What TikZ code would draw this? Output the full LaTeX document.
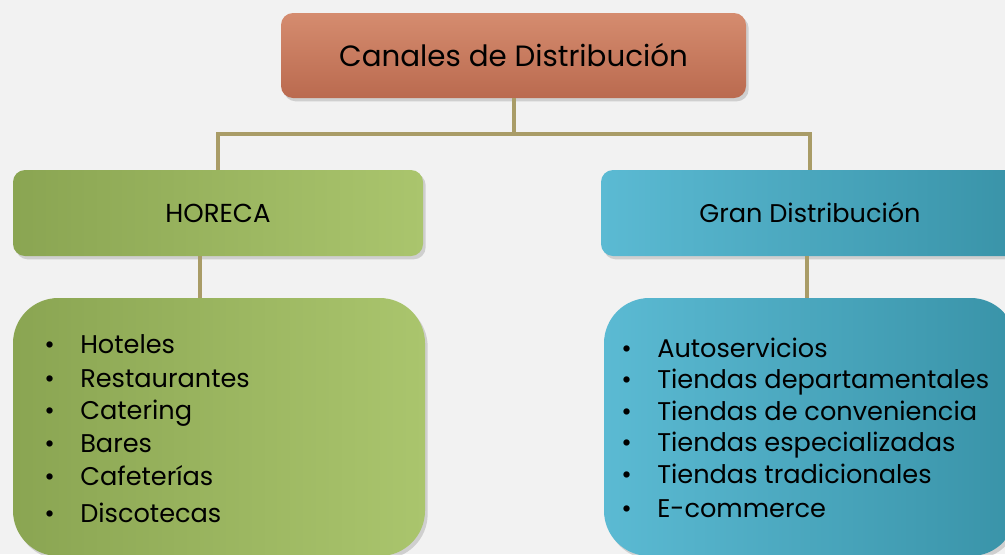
\documentclass[tikz,border=0pt]{standalone}
\usepackage{fontspec}
\setmainfont{Poppins}
\usetikzlibrary{shadows}

\definecolor{fond}{HTML}{F2F2F2}
\definecolor{trait}{HTML}{A99C67}
\definecolor{rougeH}{HTML}{D58C6F}
\definecolor{rougeB}{HTML}{BA6A4F}
\definecolor{vertG}{HTML}{8AA552}
\definecolor{vertD}{HTML}{AAC56D}
\definecolor{bleuG}{HTML}{5BBAD3}
\definecolor{bleuD}{HTML}{3993A8}

\begin{document}
\begin{tikzpicture}  % ------ Canales de distribución -------
      [x=0.75pt,y=-0.75pt,
       boite/.style={rounded corners=9pt, inner sep=0pt,
         drop shadow={shadow xshift=2pt,shadow yshift=-2.5pt,opacity=0.3}},
       liste/.style={boite, rounded corners=34pt, minimum width=309pt, minimum height=193.5pt},
       item/.style={anchor=base west, inner sep=0pt, font=\fontsize{19.2}{22}\selectfont},
       trait/.style={draw=trait, line width=3pt}]

    \useasboundingbox (0,0) rectangle (1005,554);
    \fill[fond] (0,0) rectangle (1005,554);
    \clip (0,0) rectangle (1005,554);

    \node[boite, top color=rougeH, bottom color=rougeB, minimum width=348.75pt, minimum height=63.75pt,
          font=\fontsize{22}{26}\selectfont] (titre) at (513.5,55.5) {Canales de Distribución};
    \node[boite, left color=vertG, right color=vertD, minimum width=307.5pt, minimum height=64.5pt,
          font=\fontsize{19.5}{23}\selectfont] (horeca) at (218,213) {HORECA};
    \node[boite, left color=bleuG, right color=bleuD, minimum width=313.5pt, minimum height=64.5pt,
          font=\fontsize{19.2}{23}\selectfont] (gran) at (810,213) {Gran Distribución};

    \node[liste, left color=vertG, right color=vertD] (listeH) at (219,427) {};
    \node[liste, left color=bleuG, right color=bleuD] (listeG) at (810,427) {};

    \coordinate (noeud) at (513.5,134);
    \draw[trait] (titre.south) -- (noeud);
    \draw[trait] (horeca.north) |- (noeud) -| (gran.north);
    \draw[trait] ([xshift=-13.5pt]horeca.south) -- ([xshift=-13.5pt]horeca.south |- listeH.north);
    \draw[trait] ([xshift=-2pt]gran.south) -- ([xshift=-2pt]gran.south |- listeG.north);

    % HORECA
    \foreach \y/\t [count=\i] in {353/Hoteles, 387/Restaurantes, 419/Catering,
                                  452/Bares, 485/Cafeterías, 522/Discotecas}
      \node[item] (h\i) at (44,\y) {\makebox[27pt][l]{\textbullet}\t};
    % Gran distribución
    \foreach \y/\t [count=\i] in {357/Autoservicios, 388/Tiendas departamentales,
                                  420/Tiendas de conveniencia, 451/Tiendas especializadas,
                                  483/Tiendas tradicionales, 517/E-commerce}
      \node[item] (g\i) at (621,\y) {\makebox[27pt][l]{\textbullet}\t};
\end{tikzpicture}
\end{document}
